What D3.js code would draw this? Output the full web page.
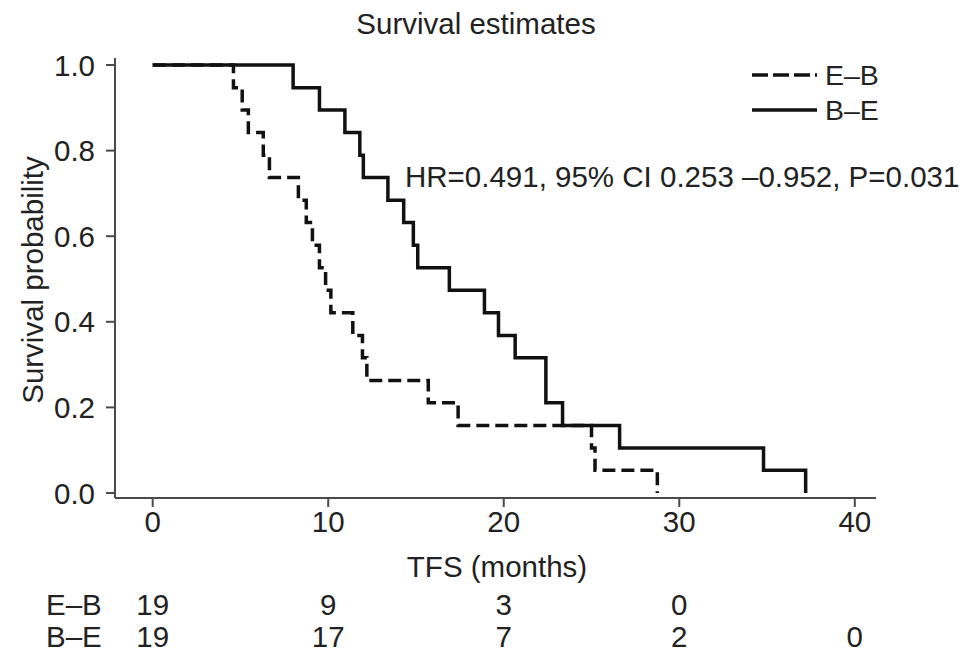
<!DOCTYPE html>
<html>
<head>
<meta charset="utf-8">
<script src="https://cdn.jsdelivr.net/npm/d3@7"></script>
<style>
  html, body { margin: 0; padding: 0; background: #fff; }
  svg { display: block; }
  text { font-family: "Liberation Sans", Arial, sans-serif; fill: #222; }
</style>
</head>
<body>
<svg id="chart" width="969" height="664"></svg>
<script>
// ---- data ----
const groups = ["E\u2013B", "B\u2013E"];

// E–B (dashed): event times (months) and survival after each step
const ebTimes = [4.6, 5.1, 5.45, 6.3, 6.65, 8.3, 8.75, 9.1, 9.5, 9.85, 10.15, 11.4, 11.95, 12.2, 15.7, 17.4, 25.0, 25.2, 28.75];
const ebSurv  = [0.947, 0.895, 0.842, 0.789, 0.737, 0.684, 0.632, 0.579, 0.526, 0.474, 0.421, 0.368, 0.316, 0.263, 0.211, 0.158, 0.105, 0.053, 0.0];

// B–E (solid)
const beTimes = [8.0, 9.5, 10.95, 11.8, 12.0, 13.4, 14.3, 14.85, 15.1, 16.9, 18.9, 19.7, 20.65, 22.4, 22.4, 23.35, 26.6, 34.8, 37.2];
const beSurv  = [0.947, 0.895, 0.842, 0.789, 0.737, 0.684, 0.632, 0.579, 0.526, 0.474, 0.421, 0.368, 0.316, 0.263, 0.211, 0.158, 0.105, 0.053, 0.0];

const xTicks = [0, 10, 20, 30, 40];
const yTicks = [0, 0.2, 0.4, 0.6, 0.8, 1.0];
const riskEB = [19, 9, 3, 0];
const riskBE = [19, 17, 7, 2, 0];

const titleText = "Survival estimates";
const xLabel = "TFS (months)";
const yLabel = "Survival probability";
const hrText = "HR=0.491, 95% CI 0.253 \u20130.952, P=0.031";

// ---- drawing ----
const svg = d3.select("#chart");
const x = d3.scaleLinear().domain([0, 40]).range([152.7, 854.8]);
const y = d3.scaleLinear().domain([0, 1]).range([493, 65]);
const FS = 29.5;

// axes
const axisColor = "#4a4a4a";
const yAxis = svg.append("g").attr("transform", "translate(115,0)");
yAxis.append("line").attr("x1", 0).attr("x2", 0).attr("y1", 58).attr("y2", 498)
  .attr("stroke", axisColor).attr("stroke-width", 2);
yTicks.forEach(t => {
  yAxis.append("line").attr("x1", -9).attr("x2", 0).attr("y1", y(t)).attr("y2", y(t))
    .attr("stroke", axisColor).attr("stroke-width", 2);
  yAxis.append("text").attr("x", -20).attr("y", y(t)).attr("dy", "0.36em")
    .attr("text-anchor", "end").style("font-size", FS + "px").text(d3.format(".1f")(t));
});

const xAxis = svg.append("g").attr("transform", "translate(0,498)");
xAxis.append("line").attr("x1", 115).attr("x2", 876).attr("y1", 0).attr("y2", 0)
  .attr("stroke", axisColor).attr("stroke-width", 2);
xTicks.forEach(t => {
  xAxis.append("line").attr("x1", x(t)).attr("x2", x(t)).attr("y1", 0).attr("y2", 9)
    .attr("stroke", axisColor).attr("stroke-width", 2);
  xAxis.append("text").attr("x", x(t)).attr("y", 34).attr("text-anchor", "middle")
    .style("font-size", FS + "px").text(t);
});

// step paths
function stepData(times, surv) {
  const pts = [[0, 1]];
  times.forEach((t, i) => pts.push([t, surv[i]]));
  return pts;
}
const line = d3.line().x(d => x(d[0])).y(d => y(d[1])).curve(d3.curveStepAfter);

svg.append("path").datum(stepData(ebTimes, ebSurv)).attr("d", line)
  .attr("fill", "none").attr("stroke", "#111").attr("stroke-width", 3.5)
  .attr("stroke-dasharray", "13,6");
svg.append("path").datum(stepData(beTimes, beSurv)).attr("d", line)
  .attr("fill", "none").attr("stroke", "#111").attr("stroke-width", 3.5);

// title & labels
svg.append("text").attr("x", 476).attr("y", 34).attr("text-anchor", "middle")
  .style("font-size", FS + "px").text(titleText);
svg.append("text").attr("x", 497).attr("y", 577).attr("text-anchor", "middle")
  .style("font-size", FS + "px").text(xLabel);
svg.append("text").attr("transform", "translate(43,280) rotate(-90)")
  .attr("text-anchor", "middle").style("font-size", FS + "px").text(yLabel);

// HR annotation
svg.append("text").attr("x", 405).attr("y", 187)
  .style("font-size", FS + "px").text(hrText);

// legend
const leg = svg.append("g");
[["16,5", 75], [null, 110]].forEach((d, i) => {
  const l = leg.append("line").attr("x1", 752).attr("x2", 817).attr("y1", d[1]).attr("y2", d[1])
    .attr("stroke", "#111").attr("stroke-width", 3.5);
  if (d[0]) l.attr("stroke-dasharray", d[0]);
  leg.append("text").attr("x", 825).attr("y", d[1]).attr("dy", "0.36em")
    .style("font-size", "28.5px").text(groups[i]);
});

// number at risk
const rows = [[riskEB, 615], [riskBE, 647]];
rows.forEach((r, i) => {
  svg.append("text").attr("x", 46).attr("y", r[1]).style("font-size", FS + "px").text(groups[i]);
  r[0].forEach((v, j) => {
    svg.append("text").attr("x", x(xTicks[j])).attr("y", r[1]).attr("text-anchor", "middle")
      .style("font-size", FS + "px").text(v);
  });
});
</script>
</body>
</html>
